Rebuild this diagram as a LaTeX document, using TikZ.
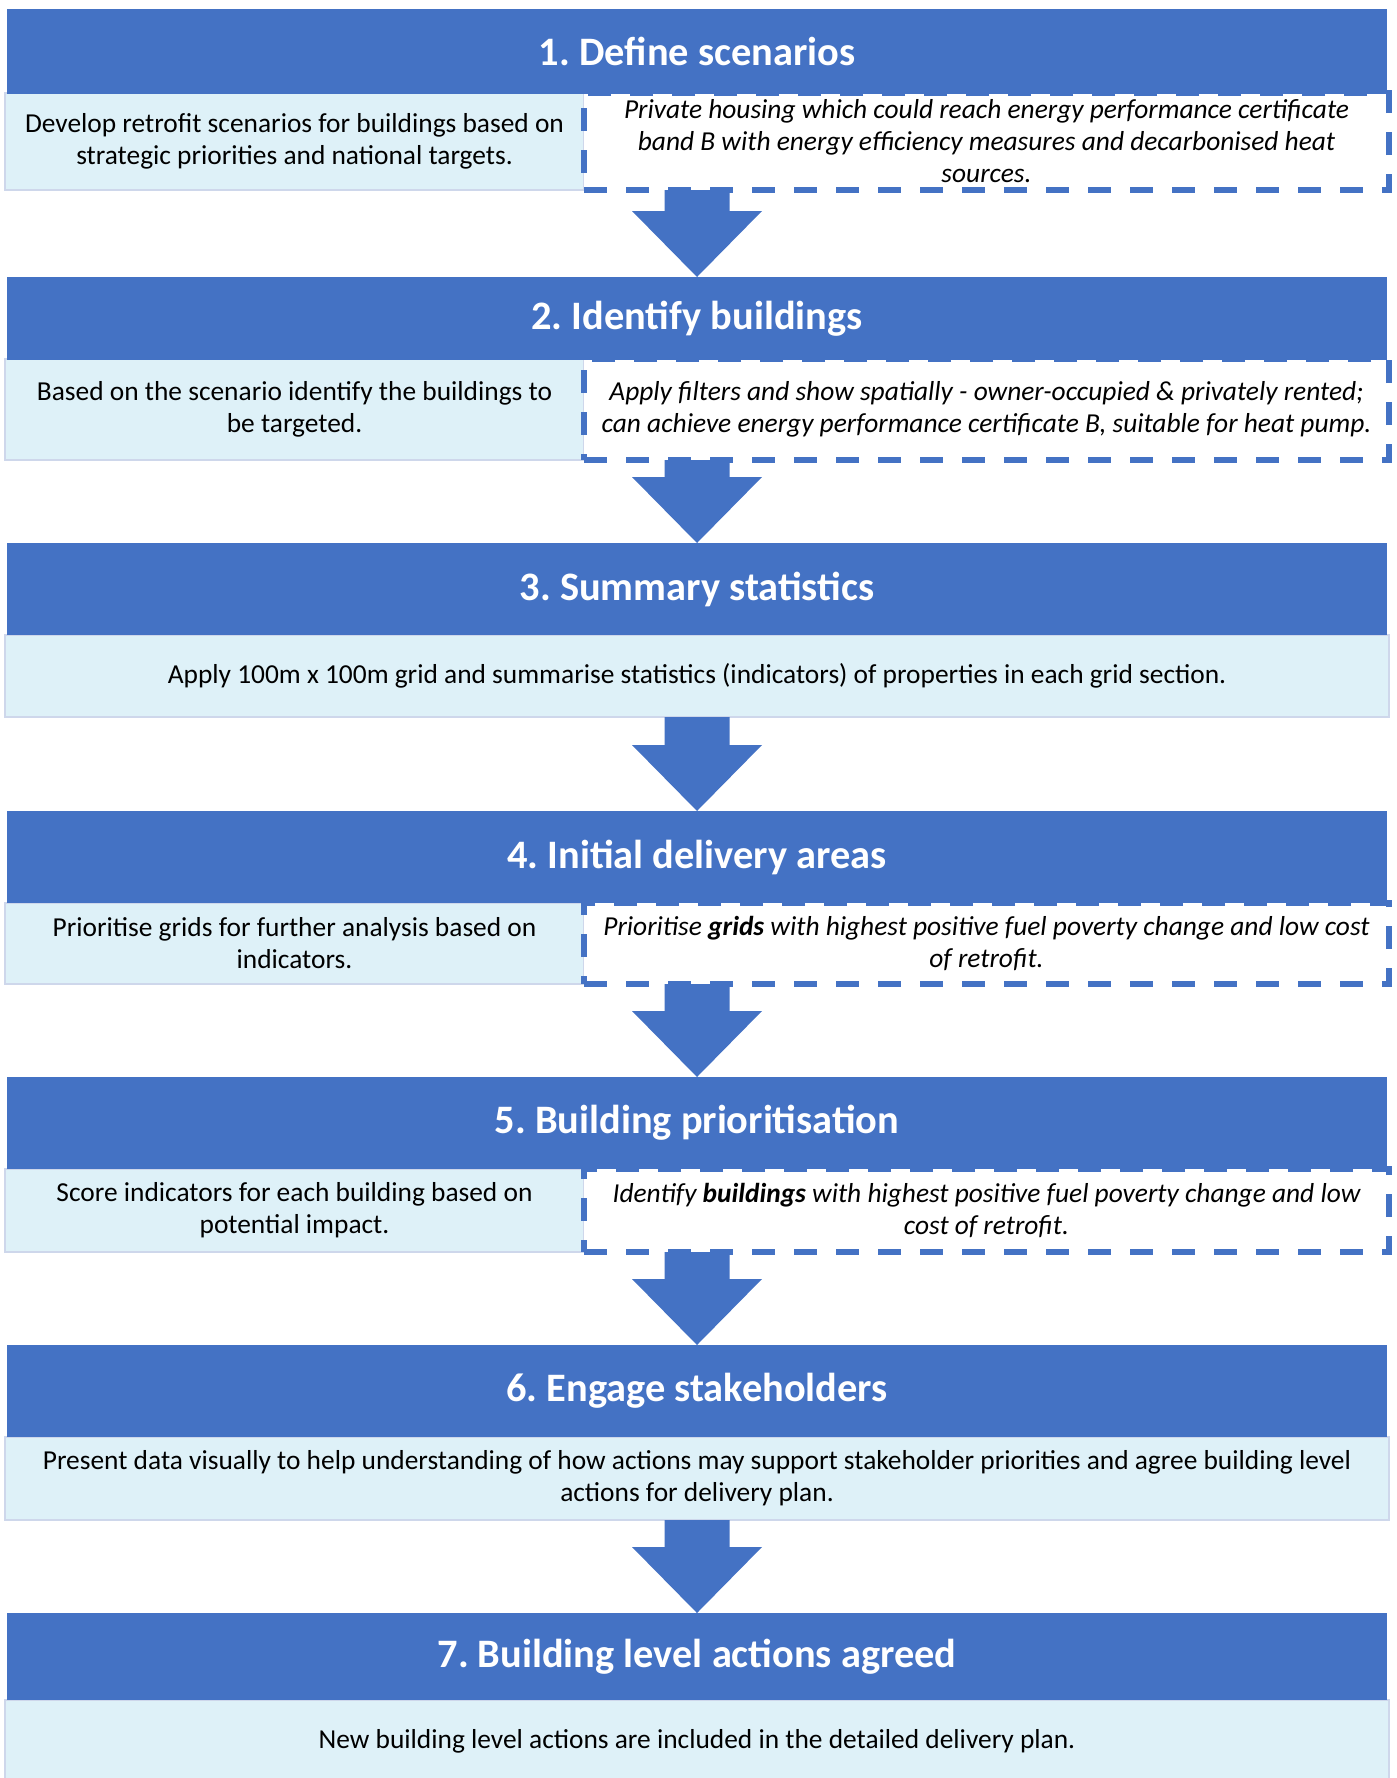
\documentclass[tikz,border=0pt]{standalone}
\usepackage{fontspec}
\setmainfont{Carlito}
\usetikzlibrary{calc}
\frenchspacing

\definecolor{stepblue}{HTML}{4472C4}
\definecolor{descfill}{HTML}{DEF1F8}
\definecolor{descline}{HTML}{CED7EB}

\tikzset{
    headbox/.style={fill=stepblue, text=white, outer sep=0pt, minimum width=690pt,
        font=\fontsize{20.2}{24}\selectfont\bfseries},
    descbox/.style={fill=descfill, draw=descline, line width=1.2pt, outer sep=0pt,
        align=center, font=\fontsize{13.7}{16}\selectfont},
    casebox/.style={fill=white, draw=stepblue, line width=2.6pt, outer sep=0pt,
        dash pattern=on 11.5pt off 9.5pt, align=center,
        font=\fontsize{13.7}{16}\selectfont\itshape},
}

% block arrow from a row down to the next heading
\newcommand{\flowarrow}[2]{%
    \fill[stepblue] ($(#1.south -| #2.north)+(-32.5,0)$) -- ($(#2.north)+(-32.5,-66)$)
        -- ($(#2.north)+(-65,-66)$) -- (#2.north) -- ($(#2.north)+(65,-66)$)
        -- ($(#2.north)+(32.5,-66)$) -- ($(#1.south -| #2.north)+(32.5,0)$) -- cycle;}

\begin{document}
\begin{tikzpicture}[x=0.5pt, y=-0.5pt]
    \useasboundingbox (0,0) rectangle (1397,1778);

    % 1. scenarios
    \node[descbox, minimum width=289.5pt, minimum height=48.5pt] (r1l) at (294.5,141.5)
        {Develop retrofit scenarios for buildings based on\\strategic priorities and national targets.};
    \node[casebox, minimum width=402.5pt, minimum height=48.5pt] (r1r) at (986.5,141.5)
        {Private housing which could reach energy performance certificate\\band B with energy efficiency measures and decarbonised heat\\sources.};
    \node[headbox, minimum height=42.5pt] (h1) at (697,51.5) {1. Define scenarios};

    % 2. buildings
    \node[descbox, minimum width=289.5pt, minimum height=50.5pt] (r2l) at (294.5,409.5)
        {Based on the scenario identify the buildings to\\be targeted.};
    \node[casebox, minimum width=402.5pt, minimum height=50.5pt] (r2r) at (986.5,409.5)
        {Apply filters and show spatially - owner-occupied \& privately rented;\\can achieve energy performance certificate B, suitable for heat pump.};
    \node[headbox, minimum height=41.5pt] (h2) at (697,318.5) {2. Identify buildings};

    % 3. statistics
    \node[descbox, minimum width=692pt, minimum height=41pt] (r3) at (697,676)
        {Apply 100m x 100m grid and summarise statistics (indicators) of properties in each grid section.};
    \node[headbox, minimum height=46pt] (h3) at (697,589) {3. Summary statistics};

    % 4. delivery areas
    \node[descbox, minimum width=289.5pt, minimum height=40.5pt] (r4l) at (294.5,943.5)
        {Prioritise grids for further analysis based on\\indicators.};
    \node[casebox, minimum width=402.5pt, minimum height=40.5pt] (r4r) at (986.5,943.5)
        {Prioritise \textbf{grids} with highest positive fuel poverty change and low cost\\of retrofit.};
    \node[headbox, minimum height=46pt] (h4) at (697,857) {4. Initial delivery areas};

    % 5. prioritisation
    \node[descbox, minimum width=289.5pt, minimum height=41.5pt] (r5l) at (294.5,1210.5)
        {Score indicators for each building based on\\potential impact.};
    \node[casebox, minimum width=402.5pt, minimum height=41.5pt] (r5r) at (986.5,1210.5)
        {Identify \textbf{buildings} with highest positive fuel poverty change and low\\cost of retrofit.};
    \node[headbox, minimum height=46pt] (h5) at (697,1123) {5. Building prioritisation};

    % 6. stakeholders
    \node[descbox, minimum width=692pt, minimum height=41.5pt] (r6) at (697,1478.5)
        {Present data visually to help understanding of how actions may support stakeholder priorities and agree building level\\actions for delivery plan.};
    \node[headbox, minimum height=46pt] (h6) at (697,1391) {6. Engage stakeholders};

    % 7. agreed
    \node[descbox, minimum width=692pt, minimum height=41pt] (r7) at (697,1741)
        {New building level actions are included in the detailed delivery plan.};
    \node[headbox, minimum height=43.5pt] (h7) at (697,1656.5) {7. Building level actions agreed};

    % arrows
    \flowarrow{r1l}{h2}
    \flowarrow{r2l}{h3}
    \flowarrow{r3}{h4}
    \flowarrow{r4l}{h5}
    \flowarrow{r5l}{h6}
    \flowarrow{r6}{h7}
\end{tikzpicture}
\end{document}
